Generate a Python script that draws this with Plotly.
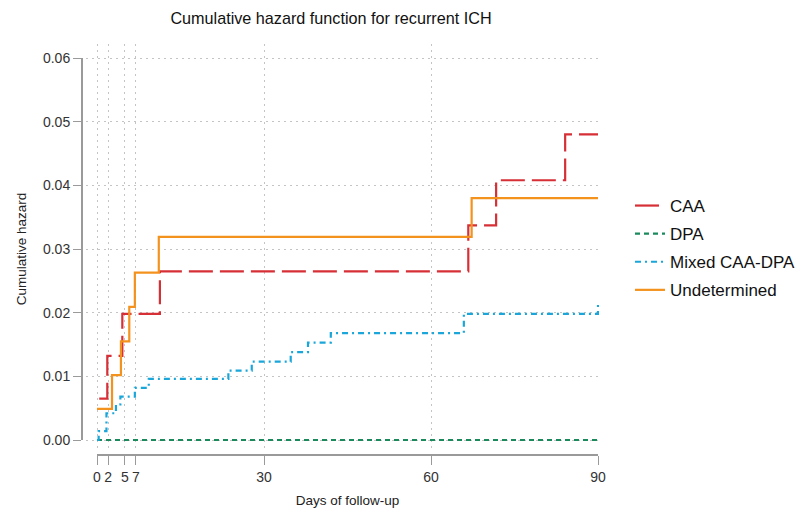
import plotly.graph_objects as go

# ---- data ----
caa_days = [0.4, 1.85, 4.55, 11.3, 66.7, 71.7, 84.1, 90]
caa_hazard = [0.0065, 0.0132, 0.0198, 0.0265, 0.0337, 0.0408, 0.0480, 0.0480]

dpa_days = [0, 90]
dpa_hazard = [0.0, 0.0]

mixed_days = [0, 0.3, 1.7, 3.4, 4.2, 6.8, 9.3, 23.6, 27.8, 34.8, 37.9, 42.0, 65.9, 90]
mixed_hazard = [0.0, 0.0014, 0.0042, 0.0056, 0.0068, 0.0082, 0.0096, 0.0109,
                0.0123, 0.0138, 0.0153, 0.0168, 0.0198, 0.0212]

undet_days = [0, 2.7, 4.3, 5.8, 6.8, 11.1, 67.3, 90]
undet_hazard = [0.0049, 0.0102, 0.0155, 0.0209, 0.0263, 0.0319, 0.0380, 0.0380]

x_ticks = [0, 2, 5, 7, 30, 60, 90]
y_ticks = [0.00, 0.01, 0.02, 0.03, 0.04, 0.05, 0.06]

title_text = "Cumulative hazard function for recurrent ICH"
x_title = "Days of follow-up"
y_title = "Cumulative hazard"

FONT = "Liberation Sans, Arial, sans-serif"
AXIS_GRAY = "#9a9a9a"
GRID = "#c4c4c4"

fig = go.Figure()

series = [
    ("CAA", caa_days, caa_hazard, "#d62f36", "24px,7px"),
    ("DPA", dpa_days, dpa_hazard, "#1a8a5c", "5px,4px"),
    ("Mixed CAA-DPA", mixed_days, mixed_hazard, "#1ba6d9", "6px,4px,2px,4px"),
    ("Undetermined", undet_days, undet_hazard, "#f4921e", "solid"),
]
for name, xs, ys, col, dash in series:
    fig.add_trace(go.Scatter(
        x=xs, y=ys, mode="lines", name=name, legendgroup=name,
        line=dict(color=col, width=2.2, dash=dash, shape="hv"),
        xaxis="x", yaxis="y",
    ))

# empty trace so the labelled (offset) axes are drawn
fig.add_trace(go.Scatter(x=[], y=[], xaxis="x2", yaxis="y2", showlegend=False,
                         hoverinfo="skip"))

# page body adds an 8px offset; design in screen pixels and subtract it
OFF = 8
W, H = 807 - OFF, 508 - OFF

# screen-pixel geometry
L, R, T, B = 82, 599, 44, 455
pw, ph = R - L, B - T
x0px, x90px = 97, 598
y0px, y6px = 440, 58
xs_per_px = 90 / (x90px - x0px)
ys_per_px = 0.06 / (y0px - y6px)

grid_left = 86
grid_bottom = 452

fig.update_layout(
    width=W, height=H,
    margin=dict(l=L - OFF, r=W - (R - OFF), t=T - OFF, b=H - (B - OFF), pad=0,
                autoexpand=False),
    paper_bgcolor="white", plot_bgcolor="rgba(0,0,0,0)",
    font=dict(family=FONT, color="#222222"),
    showlegend=True,
    title=dict(text=title_text, x=(331 - L) / pw, xref="paper", xanchor="center",
               y=1 - (18 - OFF) / H, yref="container", yanchor="middle", automargin=False,
               font=dict(size=16.2, color="#111111", family=FONT)),
    xaxis=dict(
        domain=[(grid_left - L) / pw, 1],
        range=[(grid_left - x0px) * xs_per_px, (R - x0px) * xs_per_px],
        tickvals=x_ticks, showticklabels=False, ticks="",
        showgrid=True, gridcolor=GRID, gridwidth=1, griddash="2px,4px",
        showline=False, zeroline=False, anchor="y", automargin=False,
    ),
    yaxis=dict(
        domain=[(B - grid_bottom) / ph, 1],
        range=[-(grid_bottom - y0px) * ys_per_px, 0.06 + (y6px - T) * ys_per_px],
        tickvals=y_ticks, showticklabels=False, ticks="",
        showgrid=True, gridcolor=GRID, gridwidth=1, griddash="2px,4px",
        showline=False, zeroline=False, anchor="x", automargin=False,
    ),
    xaxis2=dict(
        domain=[(x0px - L) / pw, (x90px - L) / pw],
        range=[0, 90], anchor="free", position=0, automargin=False,
        tickvals=x_ticks, ticktext=[str(v) for v in x_ticks],
        ticks="outside", ticklen=9, tickwidth=1.3, tickcolor=AXIS_GRAY,
        showline=True, linecolor=AXIS_GRAY, linewidth=2,
        showgrid=False, zeroline=False,
        tickfont=dict(size=14, color="#333333", family=FONT),
        title=dict(text=x_title, font=dict(size=13.5, color="#222222", family=FONT),
                   standoff=13),
    ),
    yaxis2=dict(
        domain=[(B - y0px) / ph, (B - y6px) / ph],
        range=[0, 0.06], anchor="free", position=0, automargin=False,
        tickvals=y_ticks, tickformat=".2f",
        ticks="outside", ticklen=8, tickwidth=1.3, tickcolor=AXIS_GRAY,
        showline=True, linecolor=AXIS_GRAY, linewidth=2,
        showgrid=False, zeroline=False,
        tickfont=dict(size=14, color="#333333", family=FONT),
        title=dict(text=y_title, font=dict(size=13.5, color="#222222", family=FONT),
                   standoff=12),
    ),
    legend=dict(
        x=(630 - L) / pw, xref="paper", xanchor="left",
        y=(B - 248) / ph, yref="paper", yanchor="middle",
        font=dict(size=17, color="#111111", family=FONT),
        bgcolor="rgba(0,0,0,0)", borderwidth=0,
        tracegroupgap=3, itemwidth=30,
    ),
)

fig.write_html("out.html")
